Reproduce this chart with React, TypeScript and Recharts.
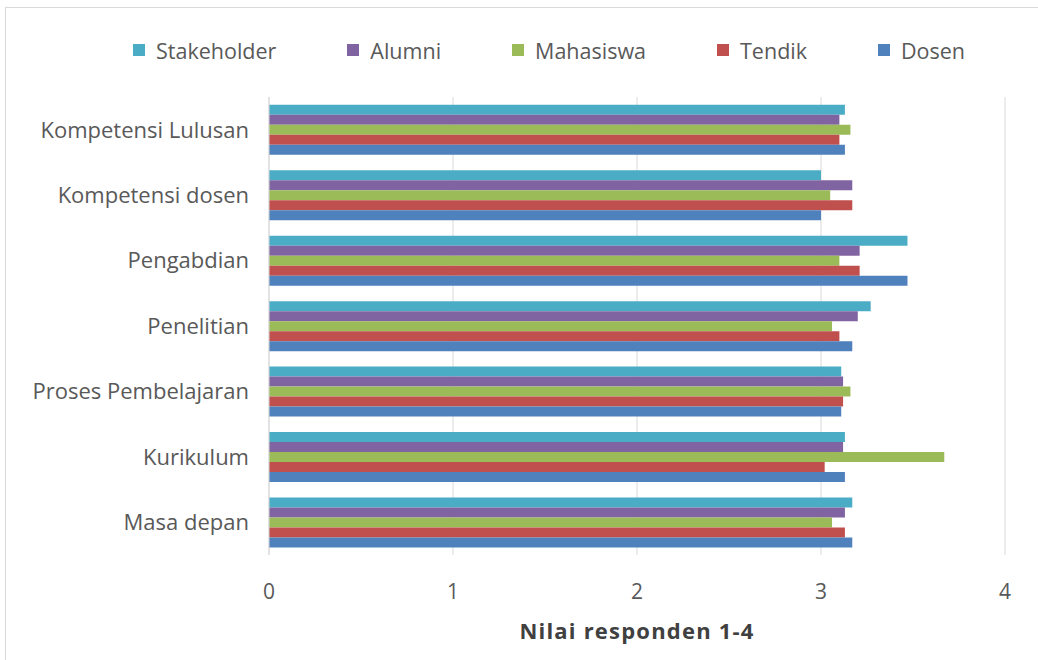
import React from "react";
import { BarChart, Bar, XAxis, YAxis, CartesianGrid } from "recharts";

const categories = [
  "Kompetensi Lulusan",
  "Kompetensi dosen",
  "Pengabdian",
  "Penelitian",
  "Proses Pembelajaran",
  "Kurikulum",
  "Masa depan",
];
const stakeholder = [3.13, 3.0, 3.47, 3.27, 3.11, 3.13, 3.17];
const alumni = [3.1, 3.17, 3.21, 3.2, 3.12, 3.12, 3.13];
const mahasiswa = [3.16, 3.05, 3.1, 3.06, 3.16, 3.67, 3.06];
const tendik = [3.1, 3.17, 3.21, 3.1, 3.12, 3.02, 3.13];
const dosen = [3.13, 3.0, 3.47, 3.17, 3.11, 3.13, 3.17];
const xTicks = [0, 1, 2, 3, 4];

const series = [
  { key: "Stakeholder", values: stakeholder, color: "#4BACC6" },
  { key: "Alumni", values: alumni, color: "#8064A2" },
  { key: "Mahasiswa", values: mahasiswa, color: "#9BBB59" },
  { key: "Tendik", values: tendik, color: "#C0504D" },
  { key: "Dosen", values: dosen, color: "#4F81BD" },
];

const data = categories.map((c, i) => {
  const row: Record<string, string | number> = { name: c };
  series.forEach((s) => (row[s.key] = s.values[i]));
  return row;
});

const FONT = "'Open Sans', sans-serif";
const TEXT = "#595959";

const LegendBlock = () => (
  <div
    style={{
      position: "absolute",
      left: 133,
      top: 35,
      height: 30,
      display: "flex",
      alignItems: "center",
      gap: 71,
      fontFamily: FONT,
      fontSize: 21.5,
      color: TEXT,
      whiteSpace: "nowrap",
    }}
  >
    {series.map((s) => (
      <div key={s.key} style={{ display: "flex", alignItems: "center" }}>
        <span style={{ display: "inline-block", width: 12, height: 12, background: s.color, marginRight: 11 }} />
        <span>{s.key}</span>
      </div>
    ))}
  </div>
);

export default function App() {
  return (
    <div style={{ position: "absolute", left: 0, top: 0, width: 1038, height: 660, background: "#fff" }}>
      <div
        style={{
          position: "absolute",
          left: 5,
          top: 7,
          right: 0,
          bottom: 0,
          borderLeft: "1px solid #D9D9D9",
          borderTop: "1px solid #D9D9D9",
        }}
      />
      <BarChart
        width={1038}
        height={660}
        data={data}
        layout="vertical"
        margin={{ top: 97, right: 33, bottom: 15, left: 9 }}
        barCategoryGap="12%"
        barGap={0}
        style={{ position: "absolute", left: 0, top: 0 }}
      >
        <CartesianGrid horizontal={false} stroke="#D9D9D9" />
        <XAxis
          type="number"
          domain={[0, 4]}
          ticks={xTicks}
          axisLine={false}
          tickLine={false}
          tickMargin={23}
          height={90}
          tick={{ fill: TEXT, fontSize: 21, fontFamily: FONT }}
          label={{
            value: "Nilai responden 1-4",
            position: "insideBottom",
            offset: 6,
            fill: "#404040",
            fontSize: 22,
            fontWeight: 700,
            fontFamily: FONT,
            letterSpacing: 1.2,
          }}
        />
        <YAxis
          type="category"
          dataKey="name"
          width={260}
          axisLine={{ stroke: "#D9D9D9" }}
          tickLine={false}
          tickMargin={14}
          tick={{ fill: TEXT, fontSize: 22, fontFamily: FONT }}
        />
        {series.map((s) => (
          <Bar key={s.key} dataKey={s.key} fill={s.color} isAnimationActive={false} />
        ))}
      </BarChart>
      <LegendBlock />
    </div>
  );
}
